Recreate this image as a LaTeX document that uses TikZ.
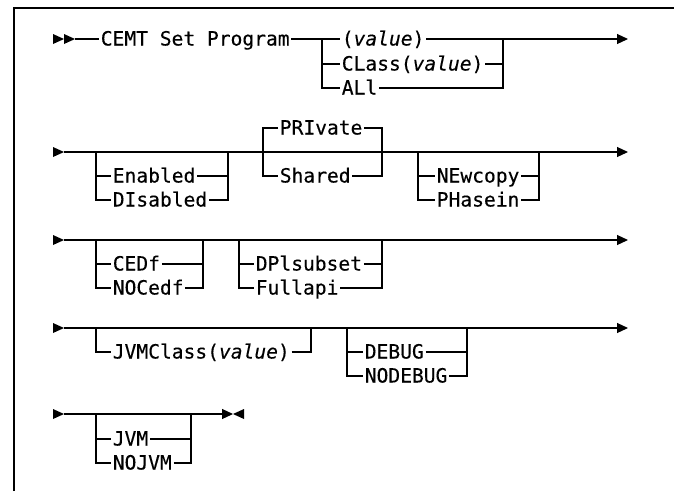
\documentclass[tikz,border=0pt]{standalone}
\usepackage{fontspec}
\newfontfamily\syntaxfont{DejaVu Sans Mono}[FakeStretch=1.0, FakeBold=0.3]
\usetikzlibrary{arrows.meta, calc}

\begin{document}
\begin{tikzpicture}[x=1pt, y=-1pt, line width=1.2pt, >={Triangle[length=11pt, width=10pt]},
  every node/.style={font=\syntaxfont\fontsize{19.6}{22}\selectfont},
  kw/.style={anchor=west, inner xsep=1.2pt, inner ysep=0pt, text height=13pt, text depth=0pt}]
  \useasboundingbox (0,0) rectangle (674,491);
  \draw (14,491) -- (14,8) -- (674,8);
  % row 1
  \coordinate (start1) at (75,39);
  \fill (53,34) -- (64,39) -- (53,44) -- cycle;
  \fill (64,34) -- (75,39) -- (64,44) -- cycle;
  \node[kw] (cemt) at (99,39) {CEMT Set Program};
  \node[kw] (value) at (340,39) {(\textit{value})};
  \node[kw] (class) at (340,64) {CLass(\textit{value})};
  \node[kw] (all) at (340,88) {ALl};
  \coordinate (progL) at (322,39);
  \coordinate (progR) at (503,39);
  \coordinate (end1) at (628,39);
  \draw (start1) -- (cemt.west);
  \draw (cemt.east) -- (value.west);
  \draw[->] (value.east) -- (end1);
  \draw (progL) |- (all.west);
  \draw (class.west -| progL) -- (class.west);
  \draw (class.east) -- (class.east -| progR);
  \draw (all.east) -| (progR);
  % row 2
  \coordinate (start2) at (64,152);
  \coordinate (end2) at (628,152);
  \fill (53,147) -- (start2) -- (53,157) -- cycle;
  \draw[->] (start2) -- (end2);
  \node[kw] (enabled) at (111,176) {Enabled};
  \node[kw] (disabled) at (111,200) {DIsabled};
  \coordinate (enaL) at (96,152);
  \coordinate (enaR) at (228,152);
  \draw (enaL) |- (disabled.west);
  \draw (enabled.west -| enaL) -- (enabled.west);
  \draw (enabled.east) -- (enabled.east -| enaR);
  \draw (disabled.east) -| (enaR);
  \node[kw] (private) at (278,128) {PRIvate};
  \node[kw] (shared) at (278,176) {Shared};
  \coordinate (priL) at (263,152);
  \coordinate (priR) at (382,152);
  \draw (private.west) -| (priL) |- (shared.west);
  \draw (private.east) -| (priR) |- (shared.east);
  \node[kw] (newcopy) at (435,176) {NEwcopy};
  \node[kw] (phasein) at (435,200) {PHasein};
  \coordinate (newL) at (418,152);
  \coordinate (newR) at (539,152);
  \draw (newL) |- (phasein.west);
  \draw (newcopy.west -| newL) -- (newcopy.west);
  \draw (newcopy.east) -- (newcopy.east -| newR);
  \draw (phasein.east) -| (newR);
  % row 3
  \coordinate (start3) at (64,240);
  \coordinate (end3) at (628,240);
  \fill (53,235) -- (start3) -- (53,245) -- cycle;
  \draw[->] (start3) -- (end3);
  \node[kw] (cedf) at (111,264) {CEDf};
  \node[kw] (nocedf) at (111,288) {NOCedf};
  \coordinate (cedL) at (96,240);
  \coordinate (cedR) at (203,240);
  \draw (cedL) |- (nocedf.west);
  \draw (cedf.west -| cedL) -- (cedf.west);
  \draw (cedf.east) -- (cedf.east -| cedR);
  \draw (nocedf.east) -| (cedR);
  \node[kw] (dplsubset) at (254,264) {DPlsubset};
  \node[kw] (fullapi) at (254,288) {Fullapi};
  \coordinate (dplL) at (239,240);
  \coordinate (dplR) at (382,240);
  \draw (dplL) |- (fullapi.west);
  \draw (dplsubset.west -| dplL) -- (dplsubset.west);
  \draw (dplsubset.east) -- (dplsubset.east -| dplR);
  \draw (fullapi.east) -| (dplR);
  % row 4
  \coordinate (start4) at (64,328);
  \coordinate (end4) at (628,328);
  \fill (53,323) -- (start4) -- (53,333) -- cycle;
  \draw[->] (start4) -- (end4);
  \node[kw] (jvmclass) at (111,352) {JVMClass(\textit{value})};
  \coordinate (jvcL) at (96,328);
  \coordinate (jvcR) at (311,328);
  \draw (jvcL) |- (jvmclass.west);
  \draw (jvmclass.east) -| (jvcR);
  \node[kw] (debug) at (363,352) {DEBUG};
  \node[kw] (nodebug) at (363,376) {NODEBUG};
  \coordinate (dbgL) at (347,328);
  \coordinate (dbgR) at (467,328);
  \draw (dbgL) |- (nodebug.west);
  \draw (debug.west -| dbgL) -- (debug.west);
  \draw (debug.east) -- (debug.east -| dbgR);
  \draw (nodebug.east) -| (dbgR);
  % row 5
  \coordinate (start5) at (64,414);
  \coordinate (end5) at (233,414);
  \fill (53,409) -- (start5) -- (53,419) -- cycle;
  \draw[->] (start5) -- (end5);
  \fill (244,409) -- (end5) -- (244,419) -- cycle;
  \node[kw] (jvm) at (111,439) {JVM};
  \node[kw] (nojvm) at (111,463) {NOJVM};
  \coordinate (jvmL) at (96,414);
  \coordinate (jvmR) at (191,414);
  \draw (jvmL) |- (nojvm.west);
  \draw (jvm.west -| jvmL) -- (jvm.west);
  \draw (jvm.east) -- (jvm.east -| jvmR);
  \draw (nojvm.east) -| (jvmR);
\end{tikzpicture}
\end{document}
